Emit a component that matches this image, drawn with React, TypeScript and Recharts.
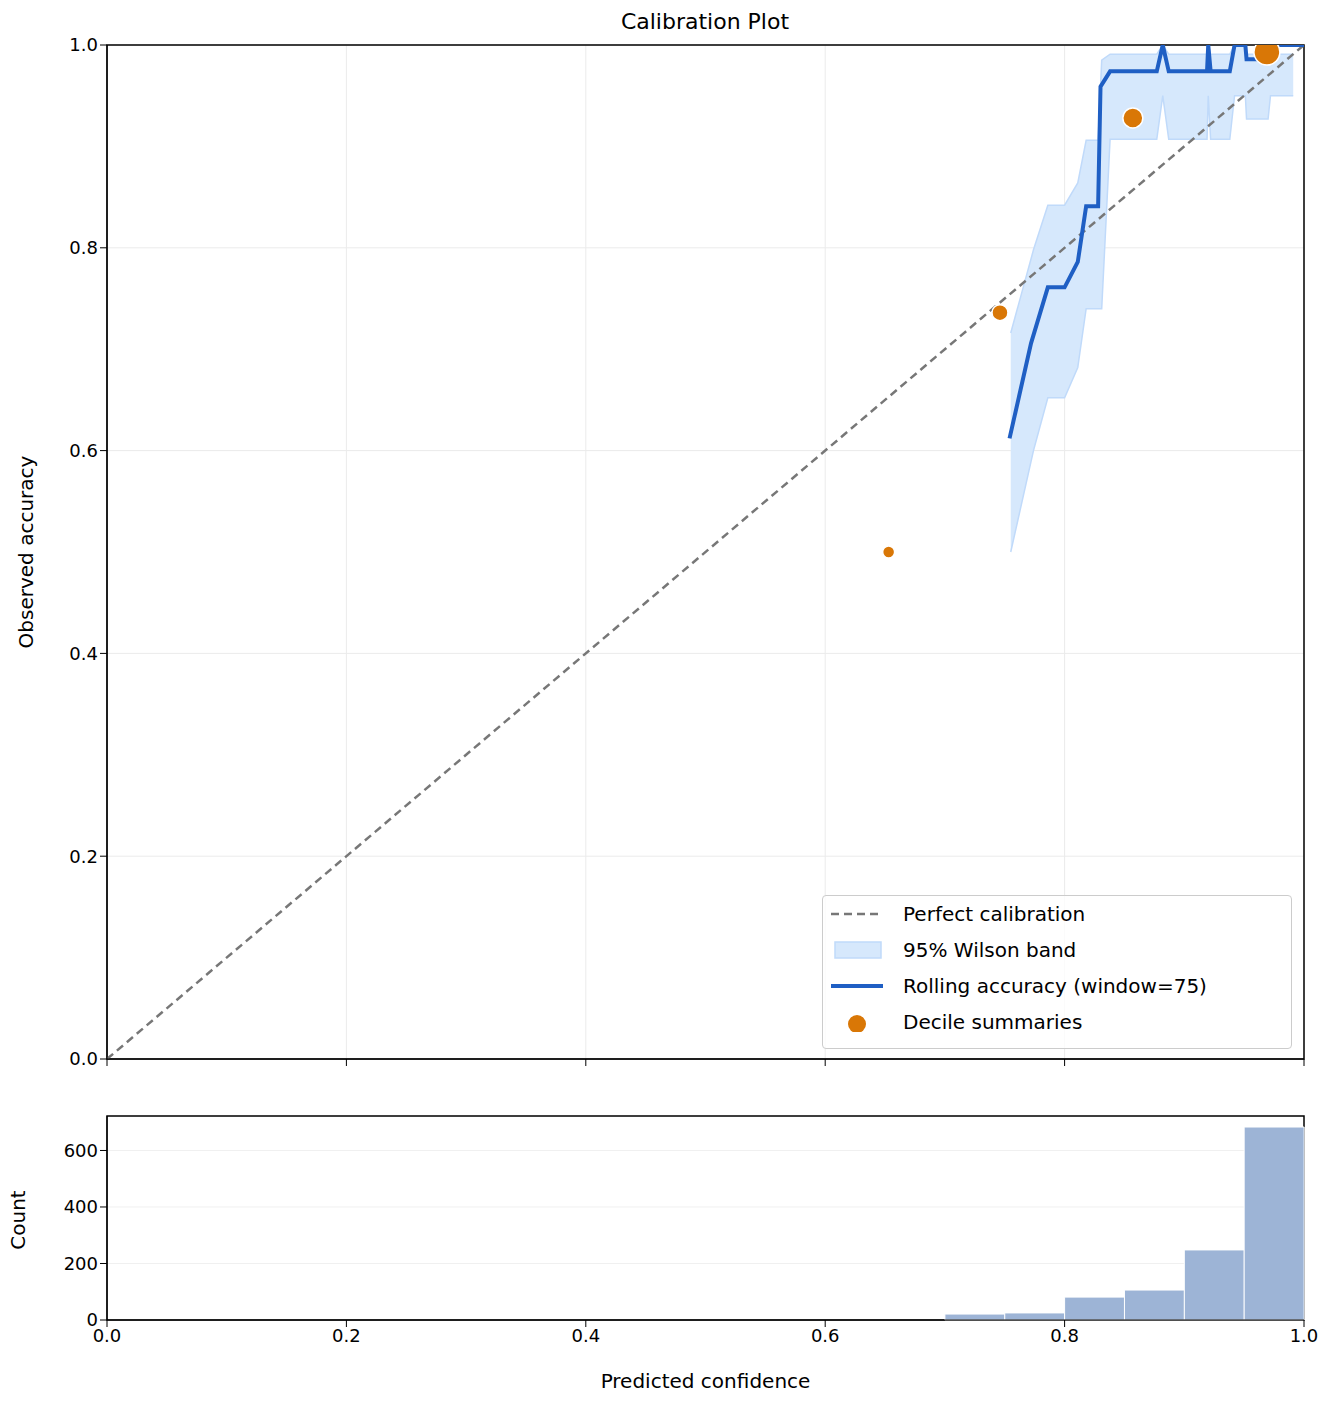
import React from "react";
import {
  ComposedChart, Line, Area, Scatter, Bar, XAxis, YAxis, CartesianGrid, ReferenceArea,
} from "recharts";

const diagonal = [{ x: 0, y: 0 }, { x: 1, y: 1 }];

const rollX = [0.754, 0.772, 0.786, 0.8, 0.811, 0.818, 0.828, 0.83, 0.838, 0.877, 0.882, 0.887, 0.919, 0.92, 0.922, 0.938, 0.942, 0.951, 0.952, 0.96, 0.962, 1.0];
const rollY = [0.612, 0.706, 0.761, 0.761, 0.786, 0.841, 0.841, 0.959, 0.974, 0.974, 1.0, 0.974, 0.974, 1.0, 0.974, 0.974, 1.0, 1.0, 0.986, 0.986, 1.0, 1.0];

const bandX = [0.755, 0.774, 0.786, 0.8, 0.811, 0.818, 0.828, 0.831, 0.838, 0.877, 0.882, 0.887, 0.919, 0.92, 0.922, 0.938, 0.942, 0.951, 0.952, 0.97, 0.972, 0.991];
const bandLo = [0.5, 0.6, 0.652, 0.652, 0.682, 0.74, 0.74, 0.74, 0.907, 0.907, 0.95, 0.907, 0.907, 0.95, 0.907, 0.907, 0.95, 0.95, 0.927, 0.927, 0.95, 0.95];
const bandHi = [0.716, 0.798, 0.842, 0.842, 0.864, 0.906, 0.906, 0.985, 0.991, 0.991, 1.0, 0.991, 0.991, 1.0, 0.991, 0.991, 1.0, 1.0, 0.991, 0.991, 0.991, 0.991];

const decileX = [0.653, 0.746, 0.857, 0.969];
const decileY = [0.5, 0.736, 0.928, 0.993];
const decileR = [6, 8, 10, 13];

const binCenters = [0.725, 0.775, 0.825, 0.875, 0.925, 0.975];
const binCounts = [21, 25, 81, 106, 248, 683];

const rolling = rollX.map((x, i) => ({ x, y: rollY[i] }));
const band = bandX.map((x, i) => ({ x, band: [bandLo[i], bandHi[i]] }));
const deciles = decileX.map((x, i) => ({ x, y: decileY[i], r: decileR[i] }));
const hist = binCenters.map((x, i) => ({ x, count: binCounts[i] }));

const FONT = "DejaVu Sans, sans-serif";
const tickStyle = { fill: "#000", fontSize: 18, fontFamily: FONT };
const BLUE = "#1f5fc4";
const ORANGE = "#d97706";

const Dot = (props: any) => {
  const { cx, cy, payload } = props;
  return <circle cx={cx} cy={cy} r={payload.r} fill={ORANGE} stroke="#fff" strokeWidth={1.5} />;
};

const VLabel = ({ text, cx, cy }: { text: string; cx: number; cy: number }) => (
  <div style={{ position: "absolute", left: cx - 150, top: cy - 12, width: 300, textAlign: "center", fontSize: 20, transform: "rotate(-90deg)", lineHeight: "24px" }}>
    {text}
  </div>
);

export default function App() {
  const ticks = [0, 0.2, 0.4, 0.6, 0.8, 1.0];
  return (
    <div style={{ position: "relative", width: 1316, height: 1396, fontFamily: FONT }}>
      <div style={{ position: "absolute", left: 98, width: 1198, top: 1, textAlign: "center", fontSize: 22 }}>
        Calibration Plot
      </div>
      <div style={{ position: "absolute", top: 0, left: 0 }}>
        <ComposedChart width={1316} height={1080} margin={{ top: 37, right: 20, bottom: 0, left: 39 }}>
          <CartesianGrid stroke="#ebebeb" />
          <XAxis dataKey="x" type="number" domain={[0, 1]} ticks={ticks} tickFormatter={() => ""}
            height={29} stroke="#000" tickSize={7} allowDataOverflow />
          <YAxis type="number" domain={[0, 1]} ticks={ticks} tickFormatter={(v) => v.toFixed(1)}
            width={60} stroke="#000" tick={tickStyle} fontSize={18} tickSize={7} allowDataOverflow />
          <Area data={band} dataKey="band" type="linear" fill="#d6e8fc" fillOpacity={1} stroke="#c0dafa" strokeWidth={1.5} isAnimationActive={false} />
          <Line data={diagonal} dataKey="y" stroke="#777" strokeWidth={2.5} strokeDasharray="8 5" dot={false} isAnimationActive={false} />
          <Line data={rolling} dataKey="y" stroke={BLUE} strokeWidth={4} dot={false} isAnimationActive={false} />
          <Scatter data={deciles} dataKey="y" shape={Dot} isAnimationActive={false} />
          <ReferenceArea x1={0} x2={1} y1={0} y2={1} fill="none" stroke="#000" strokeWidth={1.5} ifOverflow="visible" />
        </ComposedChart>
      </div>
      <VLabel text="Observed accuracy" cx={18} cy={544} />
      <VLabel text="Count" cx={10} cy={1212} />
      <div style={{ position: "absolute", left: 814, top: 887, width: 468, height: 152, border: "1px solid #ccc", borderRadius: 4, background: "rgba(255,255,255,0.8)", fontSize: 20 }}>
        {[
          { label: "Perfect calibration", icon: <svg width={56} height={20}><line x1={2} y1={10} x2={54} y2={10} stroke="#777" strokeWidth={2.5} strokeDasharray="8 5" /></svg> },
          { label: "95% Wilson band", icon: <svg width={56} height={20}><rect x={6} y={2} width={46} height={16} fill="#d6e8fc" stroke="#c0dafa" strokeWidth={1.5} /></svg> },
          { label: "Rolling accuracy (window=75)", icon: <svg width={56} height={20}><line x1={2} y1={10} x2={54} y2={10} stroke={BLUE} strokeWidth={4} /></svg> },
          { label: "Decile summaries", icon: <svg width={56} height={20}><circle cx={28} cy={12} r={9} fill={ORANGE} /></svg> },
        ].map((it, i) => (
          <div key={i} style={{ position: "absolute", left: 6, top: 6 + i * 36, display: "flex", alignItems: "center" }}>
            {it.icon}
            <span style={{ marginLeft: 18 }}>{it.label}</span>
          </div>
        ))}
      </div>
      <div style={{ position: "absolute", top: 1080, left: 0 }}>
        <ComposedChart width={1316} height={310} data={hist} barCategoryGap={0} margin={{ top: 28, right: 20, bottom: 0, left: 39 }}>
          <CartesianGrid stroke="#f0f0f0" vertical={false} />
          <XAxis dataKey="x" type="number" domain={[0, 1]} ticks={ticks} tickFormatter={(v) => v.toFixed(1)}
            height={78} stroke="#000" tick={tickStyle} fontSize={18} tickSize={7}
            label={{ value: "Predicted confidence", position: "insideBottom", offset: 10, style: { fontSize: 20, fill: "#000", fontFamily: FONT } }} />
          <YAxis type="number" domain={[0, 722]} ticks={[0, 200, 400, 600]} width={60} stroke="#000" tick={tickStyle} fontSize={18} tickSize={7} />
          <Bar dataKey="count" fill="#9db4d6" stroke="#fff" strokeWidth={1} isAnimationActive={false} />
          <ReferenceArea x1={0} x2={1} y1={0} y2={722} fill="none" stroke="#000" strokeWidth={1.5} ifOverflow="visible" />
        </ComposedChart>
      </div>
    </div>
  );
}
